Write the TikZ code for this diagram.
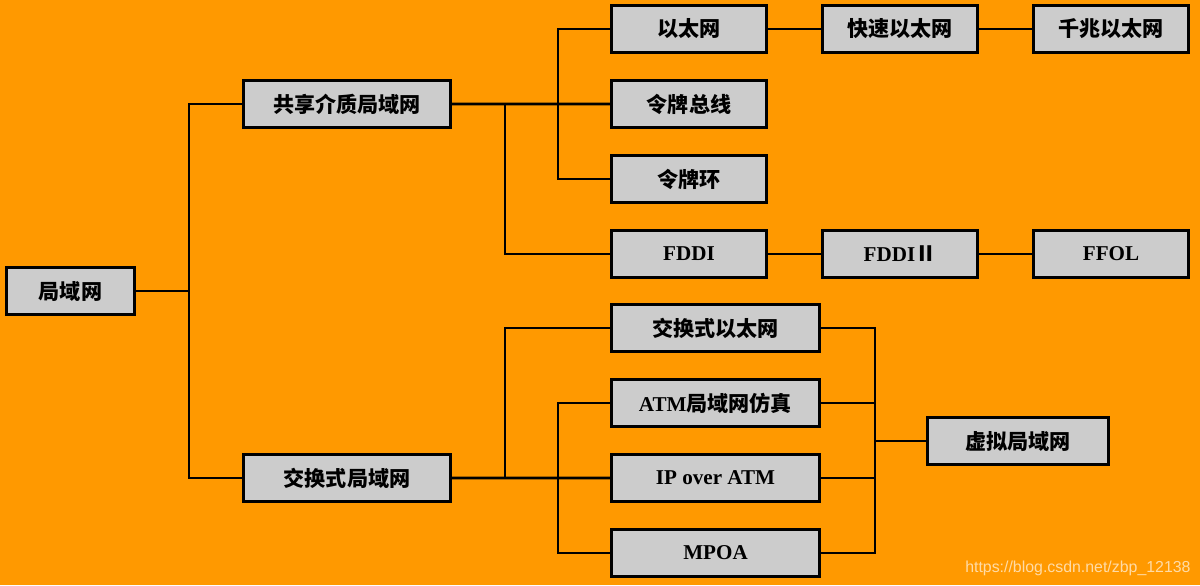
\documentclass[tikz,border=0pt]{standalone}
\usepackage{xcolor}
\usepackage{fontspec}
\setmainfont{Liberation Serif}
\newfontfamily\cjk{Noto Sans CJK SC}
\newfontfamily\urlfont{Liberation Sans}
\newcommand{\zh}[1]{{\cjk #1}}
\usepackage{tikz}
\usetikzlibrary{positioning,calc}

\definecolor{bgorange}{HTML}{FF9900}
\definecolor{boxgray}{HTML}{CCCCCC}

\begin{document}
\begin{tikzpicture}[node distance=0.625cm and 1.325cm,
    box/.style={rectangle, draw, line width=2pt, fill=boxgray, minimum width=3.88cm, minimum height=1.18cm,
      inner sep=0pt, text centered, font=\fontsize{15}{18}\selectfont\bfseries},
    widebox/.style={box, minimum width=5.18cm},
    wire/.style={line width=2pt},
    watermark/.style={inner sep=0pt, anchor=base west, text=white, opacity=0.65, font=\urlfont\fontsize{11.3}{13}\selectfont}]

    % background
    \fill[bgorange] (0,0) rectangle (30,-14.625);
    \useasboundingbox (0,0) rectangle (30,-14.625);

    % root
    \node[box, minimum width=3.205cm] (lan) at (1.7625,-7.275) {\zh{局域网}};

    % second level
    \node[widebox] (shared) at (8.675,-2.6) {\zh{共享介质局域网}};
    \node[widebox] (switched) at (8.675,-11.95) {\zh{交换式局域网}};

    % shared medium
    \node[box] (eth) at (17.225,-0.725) {\zh{以太网}};
    \node[box, below=of eth] (tbus) {\zh{令牌总线}};
    \node[box, below=of tbus] (tring) {\zh{令牌环}};
    \node[box, below=of tring] (fddi) {FDDI};
    \node[box, right=of eth] (fasteth) {\zh{快速以太网}};
    \node[box, right=of fasteth] (gbeth) {\zh{千兆以太网}};
    \node[box, right=of fddi] (fddi2) {FDDI\zh{Ⅱ}};
    \node[box, right=of fddi2] (ffol) {FFOL};

    % switched
    \node[box, minimum width=5.205cm] (seth) at (17.8875,-8.2) {\zh{交换式以太网}};
    \node[box, minimum width=5.205cm, below=of seth] (lane) {ATM\zh{局域网仿真}};
    \node[box, minimum width=5.205cm, below=of lane] (ipatm) {IP over ATM};
    \node[box, minimum width=5.205cm, below=of ipatm] (mpoa) {MPOA};
    \node[box, minimum width=4.53cm] (vlan) at (25.45,-11.025) {\zh{虚拟局域网}};

    % connectors
    \draw[wire] (lan.east) -- ++(1.325,0) |- (shared.west);
    \draw[wire] (lan.east) -- ++(1.325,0) |- (switched.west);
    \draw[wire] (shared.east) -- (tbus.west);
    \draw[wire] (eth.west) -- ++(-1.3,0) |- (tring.west);
    \draw[wire] (shared.east) ++(1.325,0) |- (fddi.west);
    \draw[wire] (eth) -- (fasteth);
    \draw[wire] (fasteth) -- (gbeth);
    \draw[wire] (fddi) -- (fddi2);
    \draw[wire] (fddi2) -- (ffol);

    \draw[wire] (switched.east) -- (ipatm.west);
    \draw[wire] (switched.east) ++(1.325,0) |- (seth.west);
    \draw[wire] (lane.west) -- ++(-1.3,0) |- (mpoa.west);
    \draw[wire] (seth.east) -- ++(1.35,0) |- (mpoa.east);
    \draw[wire] (lane.east) -- ++(1.35,0);
    \draw[wire] (ipatm.east) -- ++(1.35,0);
    \draw[wire] (vlan.west) -- ++(-1.275,0);

    % watermark
    \node[watermark] (url) at (24.125,-14.3) {https://blog.csdn.net/zbp\_12138};

\end{tikzpicture}
\end{document}
